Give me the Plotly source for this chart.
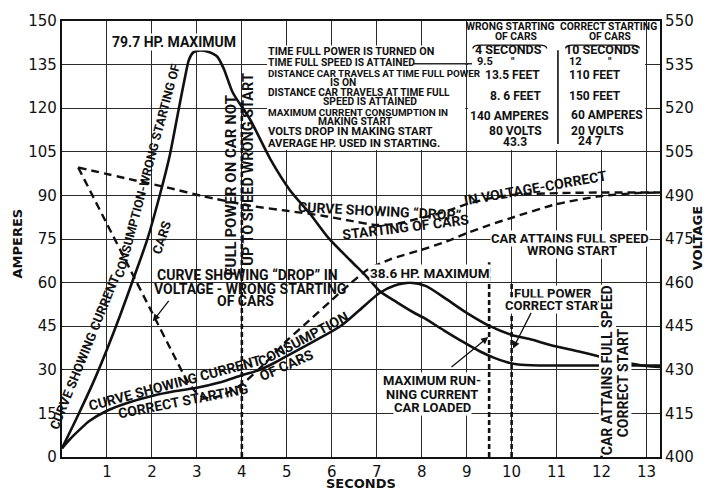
import plotly.graph_objects as go

LABEL_FONT = "Roboto, Liberation Sans, sans-serif"
TICK_FONT = "DejaVu Sans, sans-serif"
INK = "#111111"
GRID = "#2a2a2a"

# ---- readings (seconds / amperes / volts) ----
# current consumption, wrong starting of cars
t_amp_wrong = [0, 0.33, 0.69, 1.0, 1.3, 1.58, 1.89, 2.18, 2.40, 2.6, 2.74, 2.82, 2.92,
               3.07, 3.25, 3.45, 3.6, 3.8, 4.18, 4.63, 5.07, 5.52, 5.92, 6.41, 6.78,
               7.07, 7.45, 7.81, 8.03, 8.5, 8.92, 9.3, 9.6, 9.9, 10.15, 10.6, 12.0, 13.3]
amp_wrong = [3, 13.5, 25.5, 37, 49, 61, 74.5, 90.4, 104, 120, 131, 136.5, 139.2,
             139.9, 139.4, 137.8, 133.5, 125.3, 116.2, 102.6, 91.8, 83.6, 75.5, 67.7, 62,
             57, 53.2, 49.8, 48.0, 43.5, 39.6, 36.3, 34.2, 32.6, 31.8, 31.5, 31.5, 31.5]

# current consumption, correct starting of cars
t_amp_correct = [0, 0.2, 0.4, 0.6, 1.0, 1.45, 2.0, 2.5, 3.0, 3.5, 4.0, 4.4, 4.75, 5.07,
                 5.6, 6.19, 6.6, 7.07, 7.4, 7.75, 8.1, 8.56, 9.0, 9.52, 10.0, 10.4,
                 10.92, 11.5, 11.97, 12.5, 13.0, 13.3]
amp_correct = [3, 6.5, 9.5, 12.3, 15.9, 18.6, 21.0, 22.6, 23.8, 25.6, 28.1, 30.0, 32.6, 35.3,
               39.8, 45.0, 50.3, 56.5, 59.0, 60.0, 58.8, 54.2, 49.6, 45.0, 42.0, 40.6,
               38.3, 36.3, 34.5, 32.6, 31.3, 31.0]

# line voltage, wrong starting of cars
t_volt_wrong = [0.36, 1.0, 1.5, 2.0, 2.5, 2.8, 3.05, 3.3, 3.6, 4.0, 4.5, 5.0, 5.5, 6.0,
                6.4, 6.8, 7.3, 8.0, 8.6, 9.0, 9.5, 10.0, 11.0, 12.0, 12.8, 13.3]
volt_wrong = [499.6, 480.2, 465.0, 449.8, 434.6, 425.8, 421.2, 420.2, 421.5, 425.0, 432.0,
              440.0, 447.0, 454.0, 459.5, 464.5, 468.0, 471.3, 474.4, 477.0, 479.8, 482.3,
              487.0, 489.8, 490.8, 491.0]

# line voltage, correct starting of cars
t_volt_correct = [0.36, 1.5, 2.4, 3.14, 4.2, 5.0, 5.8, 6.4, 7.0, 7.5, 7.9, 8.3, 8.63,
                  8.92, 9.4, 10.0, 11.1, 12.0, 13.3]
volt_correct = [499.6, 495.6, 492.5, 489.7, 486.4, 484.7, 483.0, 481.3, 479.8, 480.4, 481.9,
                483.4, 485.0, 486.6, 488.6, 490.2, 490.8, 491.0, 491.0]

# full power / full speed instants (seconds) and the height of their markers (amperes)
event_times = [4, 9.5, 10, 12]
event_tops = [122, 67, 60, 57.6]

# axes
amp_ticks = list(range(0, 151, 15))
volt_ticks = list(range(400, 551, 15))
sec_ticks = list(range(1, 14))

fig = go.Figure()

solid = dict(color=INK, width=2.6, shape="spline", smoothing=0.7)
dashed = dict(color=INK, width=2.4, dash="8px,5px", shape="spline", smoothing=0.6)

fig.add_trace(go.Scatter(x=t_amp_wrong, y=amp_wrong, mode="lines", line=solid,
                         name="current, wrong start"))
fig.add_trace(go.Scatter(x=t_amp_correct, y=amp_correct, mode="lines", line=solid,
                         name="current, correct start"))
fig.add_trace(go.Scatter(x=t_volt_wrong, y=volt_wrong, mode="lines", line=dashed,
                         yaxis="y2", name="voltage, wrong start"))
fig.add_trace(go.Scatter(x=t_volt_correct, y=volt_correct, mode="lines", line=dashed,
                         yaxis="y2", name="voltage, correct start"))

ev_x, ev_y = [], []
for t, top in zip(event_times, event_tops):
    ev_x += [t, t, None]
    ev_y += [0, top, None]
fig.add_trace(go.Scatter(x=ev_x, y=ev_y, mode="lines",
                         line=dict(color=INK, width=2.6, dash="5px,3px"),
                         name="events"))

# ---- table block ----
shapes = [
    dict(type="rect", xref="x", yref="y", x0=4.56, x1=8.97, y0=105.6, y1=141.6,
         fillcolor="white", line_width=0, layer="between"),
    dict(type="rect", xref="x", yref="y", x0=9.03, x1=12.97, y0=105.6, y1=150,
         fillcolor="white", line_width=0, layer="between"),
    dict(type="line", xref="x", yref="y", x0=7.81, x1=9.12, y0=135.3, y1=135.3,
         line=dict(color=GRID, width=1.3), layer="between"),
    dict(type="line", xref="x", yref="y", x0=11.03, x1=11.03, y0=107.7, y1=139.9,
         line=dict(color=INK, width=1.6), layer="between"),
    dict(type="path", xref="x", yref="y",
         path="M 9.14,140.5 Q 9.14,141.7 9.3,141.7 L 10.62,141.7 Q 10.78,141.7 10.78,140.5",
         line=dict(color=INK, width=1.4), layer="above"),
    dict(type="path", xref="x", yref="y",
         path="M 11.2,140.5 Q 11.2,141.7 11.36,141.7 L 12.68,141.7 Q 12.84,141.7 12.84,140.5",
         line=dict(color=INK, width=1.4), layer="above"),
]

ann = []


def label(text, x, y, size=14, angle=0, bg=None, xanchor="center", bold=True):
    txt = f"<b>{text}</b>" if bold else text
    ann.append(dict(text=txt, x=x, y=y, xref="x", yref="y", showarrow=False,
                    textangle=angle, xanchor=xanchor, yanchor="middle",
                    font=dict(family=LABEL_FONT, size=size, color=INK),
                    bgcolor=bg if bg else "rgba(0,0,0,0)", borderpad=0))


def arrow(x0, y0, x1, y1):
    ann.append(dict(text="", x=x1, y=y1, ax=x0, ay=y0, xref="x", yref="y",
                    axref="x", ayref="y", showarrow=True, arrowhead=2,
                    arrowsize=1.1, arrowwidth=1.3, arrowcolor=INK))


# table: row captions (text, height, font size)
rows_left = [
    ("TIME FULL POWER IS TURNED ON", 139.5, 10.8),
    ("TIME FULL SPEED IS ATTAINED", 135.8, 10.3),
    ("DISTANCE CAR TRAVELS AT TIME FULL POWER", 132.1, 9.8),
    ("DISTANCE CAR TRAVELS AT TIME FULL", 125.3, 10.1),
    ("MAXIMUM CURRENT CONSUMPTION IN", 118.5, 9.9),
    ("VOLTS DROP IN MAKING START", 112.1, 11.3),
    ("AVERAGE HP. USED IN STARTING.", 108.0, 11.2),
]
for txt, yy, sz in rows_left:
    label(txt, 4.56, yy, size=sz, xanchor="left")
label("IS ON", 6.25, 128.7, size=10.3)
label("SPEED IS ATTAINED", 6.85, 122.2, size=10.3)
label("MAKING START", 6.52, 115.4, size=10.3)

# table: column headers
label("WRONG STARTING", 9.98, 148.0, size=10.3)
label("OF CARS", 10.1, 144.6, size=10.3)
label("CORRECT STARTING", 12.15, 148.0, size=10.3)
label("OF CARS", 12.19, 144.6, size=10.3)

# table: wrong start values
label("4 SECONDS", 9.94, 140.2, size=12.5)
label("9.5", 9.21, 135.9, size=11, xanchor="left")
label("\u2033", 10.03, 136.1, size=11)
label("13.5 FEET", 10.03, 131.4, size=12)
label("8. 6 FEET", 10.08, 124.3, size=12)
label("140 AMPERES", 9.96, 117.2, size=12)
label("80 VOLTS", 10.08, 112.1, size=12)
label("43.3", 10.08, 108.4, size=12)

# table: correct start values
label("10 SECONDS", 12.01, 140.2, size=12.5)
label("12", 11.25, 135.9, size=11, xanchor="left")
label("\u2033", 12.19, 136.1, size=11)
label("110 FEET", 11.25, 131.4, size=12, xanchor="left")
label("150 FEET", 11.25, 124.3, size=12, xanchor="left")
label("60 AMPERES", 11.3, 117.5, size=12, xanchor="left")
label("20 VOLTS", 11.3, 112.1, size=12, xanchor="left")
label("24 7", 11.45, 108.7, size=12, xanchor="left")

# ---- curve captions ----
label("79.7 HP. MAXIMUM", 2.49, 142.9, size=14, bg="white")
label("38.6 HP. MAXIMUM", 8.19, 63.3, size=13.5, bg="white")

label("CURVE SHOWING CURRENT", 0.5, 36.0, size=13, angle=-68)
label("CONSUMPTION-WRONG STARTING OF", 1.9, 98.5, size=12.5, angle=-75)
label("CARS", 2.22, 75.5, size=13, angle=-72)

label("CURVE SHOWING CURRENT", 2.51, 25.4, size=14, angle=-15)
label("CONSUMPTION", 5.36, 40.6, size=14, angle=-28)
label("CORRECT STARTING", 2.69, 19.3, size=14, angle=-11)
label("OF CARS", 5.0, 31.5, size=14, angle=-24)

label("CURVE SHOWING \u201cDROP\u201d IN", 4.13, 62.6, size=14)
label("VOLTAGE - WRONG STARTING", 4.18, 57.9, size=14)
label("OF CARS", 4.07, 53.5, size=14)
arrow(2.40, 54.2, 2.02, 46.7)

label("CURVE SHOWING \u201cDROP\u201d", 7.07, 84.5, size=14, angle=3)
label("IN VOLTAGE-CORRECT", 10.52, 92.5, size=14, angle=-10)
label("STARTING OF CARS", 7.65, 79.2, size=14, angle=-7)

label("FULL POWER ON CAR NOT", 3.74, 93.4, size=15, angle=-90)
label("UP TO SPEED WRONG START", 4.14, 98.9, size=14.5, angle=-90)

label("CAR ATTAINS FULL SPEED", 11.3, 75.2, size=13, bg="white")
label("WRONG START", 11.34, 71.1, size=13, bg="white")

label("MAXIMUM RUN-", 8.23, 26.3, size=13, bg="white")
label("NING CURRENT", 8.23, 21.6, size=13, bg="white")
label("CAR LOADED", 8.23, 16.9, size=13, bg="white")
arrow(8.63, 30.5, 9.48, 41.3)

label("FULL POWER", 10.92, 56.4, size=13, bg="white")
label("CORRECT START", 10.97, 52.0, size=13, bg="white")
arrow(10.45, 50.1, 10.03, 37.3)

label("CAR ATTAINS FULL SPEED", 12.14, 29.8, size=14, angle=-90, bg="white")
label("CORRECT START", 12.48, 25.4, size=14, angle=-90, bg="white")

# axis titles
for txt, x, y, ang in [("AMPERES", -0.075, 0.49, -90),
                       ("SECONDS", 0.5, -0.061, 0),
                       ("VOLTAGE", 1.063, 0.503, -90)]:
    ann.append(dict(text=f"<b>{txt}</b>", x=x, y=y, xref="paper", yref="paper",
                    showarrow=False, textangle=ang, xanchor="center", yanchor="middle",
                    font=dict(family=TICK_FONT, size=13, color=INK)))

axis_common = dict(showline=True, linecolor=INK, linewidth=2.2, ticks="",
                   tickfont=dict(family=TICK_FONT, size=15, color=INK), zeroline=False)

fig.update_layout(
    width=707, height=493,
    margin=dict(l=62, r=47, t=17, b=33),
    paper_bgcolor="white", plot_bgcolor="white",
    showlegend=False,
    xaxis=dict(range=[0, 13.3], tickvals=sec_ticks, showgrid=True, gridcolor=GRID,
               gridwidth=1.4, mirror=True, **axis_common),
    yaxis=dict(range=[0, 150], tickvals=amp_ticks, showgrid=True, gridcolor=GRID,
               gridwidth=1.4, mirror=True, **axis_common),
    yaxis2=dict(range=[400, 550], tickvals=volt_ticks, overlaying="y", side="right",
                showgrid=False, **axis_common),
    shapes=shapes,
    annotations=ann,
)

fig.write_html("out.html")
